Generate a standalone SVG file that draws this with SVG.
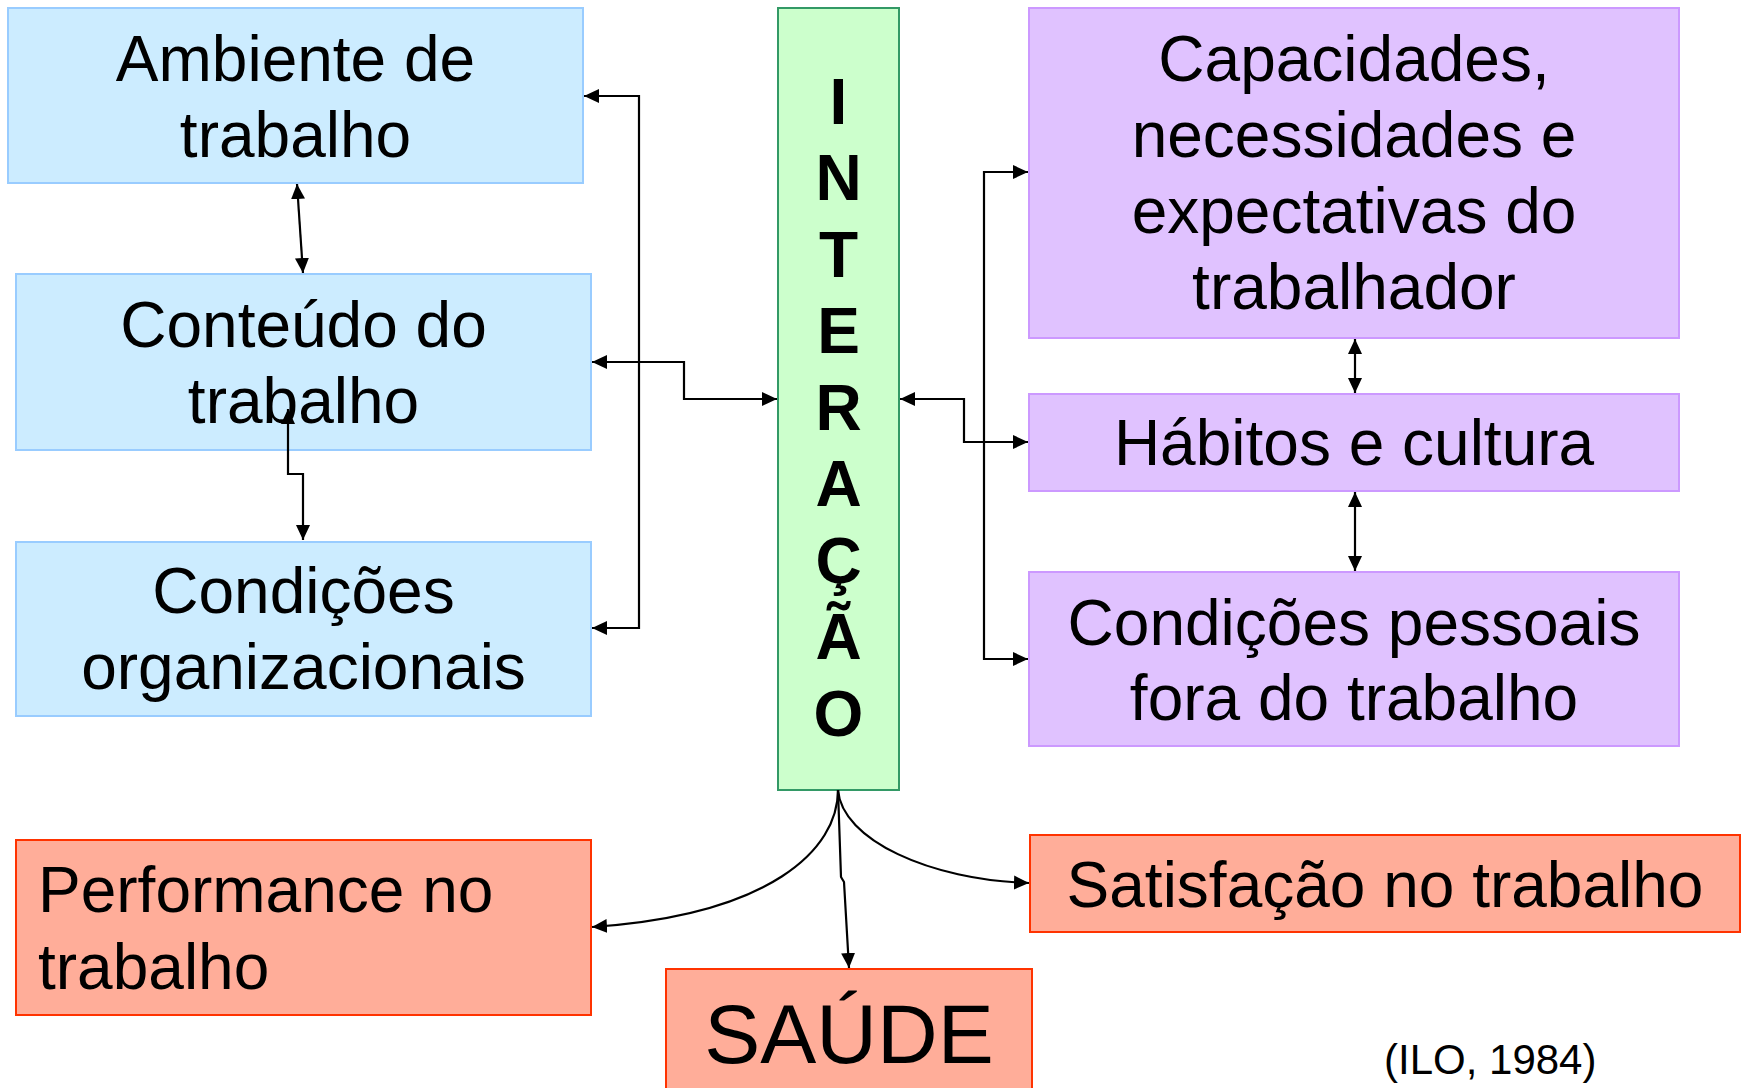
<svg xmlns="http://www.w3.org/2000/svg" width="1746" height="1088" viewBox="0 0 1746 1088">
<defs>
<style>
.blue{fill:#CCECFF;stroke:#99CCFF;stroke-width:2}
.green{fill:#CCFFCC;stroke:#339966;stroke-width:2}
.purple{fill:#E0C2FF;stroke:#CC99FF;stroke-width:2}
.salmon{fill:#FFAD99;stroke:#FF3300;stroke-width:2}
text{font-family:"Liberation Sans",Arial,sans-serif;fill:#000}
.lbl{font-size:64px;text-anchor:middle}
.vert{font-size:64px;font-weight:bold;text-anchor:middle}
.conn{fill:none;stroke:#000;stroke-width:2.2}
</style>
<marker id="ah" markerUnits="userSpaceOnUse" markerWidth="16" markerHeight="16" refX="15" refY="7" orient="auto-start-reverse" viewBox="0 0 16 14">
<path d="M0,0 L15,7 L0,14 z" fill="#000"/>
</marker>
</defs>
<rect width="1746" height="1088" fill="#fff"/>

<g id="ambiente">
<rect class="blue" x="8" y="8" width="575" height="175"/>
<text class="lbl" x="295.5" y="80.5">Ambiente de</text>
<text class="lbl" x="295.5" y="157">trabalho</text>
</g>
<g id="conteudo">
<rect class="blue" x="16" y="274" width="575" height="176"/>
<text class="lbl" x="303.5" y="347">Conteúdo do</text>
<text class="lbl" x="303.5" y="423">trabalho</text>
</g>
<g id="condicoes-org">
<rect class="blue" x="16" y="542" width="575" height="174"/>
<text class="lbl" x="303.5" y="613">Condições</text>
<text class="lbl" x="303.5" y="689">organizacionais</text>
</g>

<g id="interacao">
<rect class="green" x="778" y="8" width="121" height="782"/>
<text class="vert" x="838.5" y="123.5">I</text>
<text class="vert" x="838.5" y="200">N</text>
<text class="vert" x="838.5" y="276.5">T</text>
<text class="vert" x="838.5" y="353">E</text>
<text class="vert" x="838.5" y="429.5">R</text>
<text class="vert" x="838.5" y="506">A</text>
<text class="vert" x="838.5" y="582.5">Ç</text>
<text class="vert" x="838.5" y="659">Ã</text>
<text class="vert" x="838.5" y="735.5">O</text>
</g>

<g id="capacidades">
<rect class="purple" x="1029" y="8" width="650" height="330"/>
<text class="lbl" x="1354" y="80.5">Capacidades,</text>
<text class="lbl" x="1354" y="157">necessidades e</text>
<text class="lbl" x="1354" y="233">expectativas do</text>
<text class="lbl" x="1354" y="309">trabalhador</text>
</g>
<g id="habitos">
<rect class="purple" x="1029" y="394" width="650" height="97"/>
<text class="lbl" x="1354" y="465">Hábitos e cultura</text>
</g>
<g id="condicoes-pessoais">
<rect class="purple" x="1029" y="572" width="650" height="174"/>
<text class="lbl" x="1354" y="645">Condições pessoais</text>
<text class="lbl" x="1354" y="720">fora do trabalho</text>
</g>

<g id="performance">
<rect class="salmon" x="16" y="840" width="575" height="175"/>
<text style="font-size:64px" x="38" y="912">Performance no</text>
<text style="font-size:64px" x="38" y="989">trabalho</text>
</g>
<g id="saude">
<rect class="salmon" x="666" y="969" width="366" height="130"/>
<text style="font-size:84px;text-anchor:middle" x="849" y="1063">SAÚDE</text>
</g>
<g id="satisfacao">
<rect class="salmon" x="1030" y="835" width="710" height="97"/>
<text class="lbl" x="1385" y="907">Satisfação no trabalho</text>
</g>

<text style="font-size:42px" x="1384" y="1074">(ILO, 1984)</text>

<g id="connectors">
<path class="conn" d="M297,184 L303,273" marker-start="url(#ah)" marker-end="url(#ah)"/>
<path class="conn" d="M288,409 L288,474 L303,474 L303,540" marker-start="url(#ah)" marker-end="url(#ah)"/>
<path class="conn" d="M584,96 L639,96 L639,628 L592,628" marker-start="url(#ah)" marker-end="url(#ah)"/>
<path class="conn" d="M592,362 L684,362 L684,399 L777,399" marker-start="url(#ah)" marker-end="url(#ah)"/>
<path class="conn" d="M900,399 L964,399 L964,442 L1028,442" marker-start="url(#ah)" marker-end="url(#ah)"/>
<path class="conn" d="M1028,172 L984,172 L984,659 L1028,659" marker-start="url(#ah)" marker-end="url(#ah)"/>
<path class="conn" d="M1355,339 L1355,393" marker-start="url(#ah)" marker-end="url(#ah)"/>
<path class="conn" d="M1355,492 L1355,571" marker-start="url(#ah)" marker-end="url(#ah)"/>
<path class="conn" d="M838,790 C838,850 770,915 592,927" marker-end="url(#ah)"/>
<path class="conn" d="M838,790 L841,877 L844,882 L849,968" marker-end="url(#ah)"/>
<path class="conn" d="M838,790 C842,840 930,880 1029,883" marker-end="url(#ah)"/>
</g>
</svg>
